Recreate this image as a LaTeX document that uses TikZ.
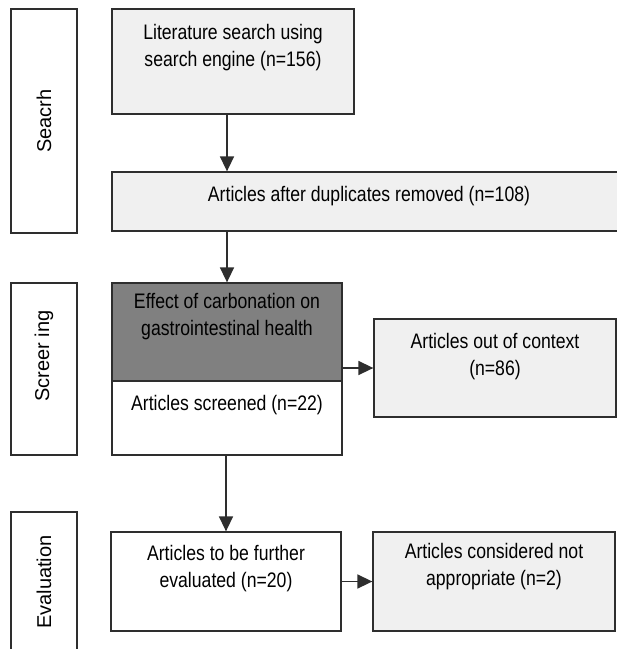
\documentclass[tikz,border=0pt]{standalone}
\usepackage{fontspec}
\setmainfont{Liberation Sans}
\newfontfamily\boxfont{Liberation Sans}[FakeStretch=0.84]
\usetikzlibrary{arrows.meta,positioning}
\colorlet{myline}{black!82}
\colorlet{mylight}{black!6}
\colorlet{mydark}{black!50}
\tikzset{
  >={Triangle[length=15pt,width=14pt]},
  box/.style={draw=myline,line width=1.3pt,inner sep=0pt,align=center,
              font=\boxfont\fontsize{21}{27}\selectfont},
  box light/.style={box,fill=mylight},
  box dark/.style={box,fill=mydark},
  phase/.style={draw=myline,line width=1.3pt,inner sep=0pt,rotate=90,
                minimum height=66pt,font=\fontsize{20}{24}\selectfont},
  connect arrow/.style={->,myline,line width=1.6pt}
}
\begin{document}
\begin{tikzpicture}[x=1pt,y=-1pt]
  \clip (0,0) rectangle (617,649);
  % Draw phase boxes on the left
  \foreach \ph/\cy/\len/\lab in {search/121/224/Seacrh,
      screen/369/172/{\hspace*{26pt}Screer ing},eval/582/140/Evaluation}{%
    \node[phase,minimum width=\len pt] (\ph) at (44,\cy) {\lab};
  }
  % Search stage
  \node[box light,minimum width=242pt,minimum height=105pt,
        text height=57pt,text depth=48pt] (lit) at (233,61.5)
        {Literature search using\\search engine (n=156)};
  \node[box light,minimum width=514pt,minimum height=59pt,
        text height=29pt,text depth=30pt] (dup) at (369,201.5)
        {Articles after duplicates removed (n=108)};
  % Screening stage
  \node[box dark,minimum width=230pt,minimum height=98pt,
        text height=52pt,text depth=46pt] (eff) at (227,332)
        {Effect of carbonation on\\gastrointestinal health};
  \node[box,minimum width=230pt,minimum height=74pt,
        text height=29pt,text depth=45pt] (scr) at (227,418)
        {Articles screened (n=22)};
  \node[box light,minimum width=242pt,minimum height=98pt,
        text height=56pt,text depth=42pt] (out) at (495,368)
        {Articles out of context\\(n=86)};
  % Evaluation stage
  \node[box,minimum width=230pt,minimum height=99pt,
        text height=55pt,text depth=44pt] (further) at (226,581.5)
        {Articles to be further\\evaluated (n=20)};
  \node[box light,minimum width=242pt,minimum height=99pt,
        text height=53pt,text depth=46pt] (notapp) at (494,581.5)
        {Articles considered not\\appropriate (n=2)};
  % Connectors
  \draw[connect arrow] (lit.south -| eff.north) -- (eff.north |- dup.north);
  \draw[connect arrow] (dup.south -| eff.north) -- (eff.north);
  \draw[connect arrow] (out.west -| eff.east) -- (out.west);
  \draw[connect arrow] (scr.south -| further.north) -- (further.north);
  \draw[connect arrow] (further) -- (notapp);
\end{tikzpicture}
\end{document}
